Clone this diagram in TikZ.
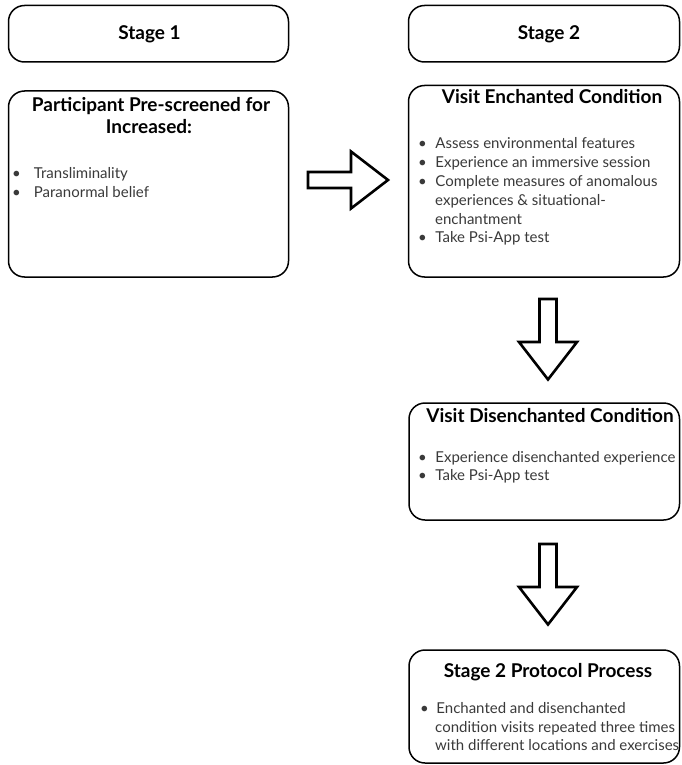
\documentclass[tikz,border=0pt]{standalone}
\usepackage{fontspec}
\setmainfont{Lato}
\definecolor{bodygray}{HTML}{3A3A3A}
\tikzset{
  box/.style={draw=black, line width=1.5pt, rounded corners=16pt, fill=white},
  ttl/.style={anchor=base, inner sep=0pt, font=\fontsize{19}{22}\selectfont\bfseries, text=black},
  bul/.style={anchor=base west, inner sep=0pt, font=\fontsize{15}{19}\selectfont, text=bodygray},
  blockarr/.style={draw=black, line width=2.6pt, line join=miter, fill=white}
}
\begin{document}
\begin{tikzpicture}[x=1pt,y=-1pt]
\useasboundingbox (0,0) rectangle (681,765);
% boxes
\draw[box] (8.5,5.5) rectangle (288.5,62);
\node[inner sep=0] (s1) at (148.5,33.5) {};
\draw[box] (8.5,91) rectangle (288.5,277);
\node[inner sep=0] (p) at (148.5,184) {};
\draw[box] (408.5,5.5) rectangle (679.5,62);
\node[inner sep=0] (s2) at (544,33.5) {};
\draw[box] (408.5,85.5) rectangle (679.5,277);
\node[inner sep=0] (e) at (544,181) {};
\draw[box] (409,403) rectangle (679.5,520);
\node[inner sep=0] (d) at (544,461) {};
\draw[box] (409,650) rectangle (679.5,763);
\node[inner sep=0] (pp) at (544,706) {};

% texts
\node[ttl] (t1) at (149.5,40) {Stage 1};
\node[ttl] (t2) at (549,40) {Stage 2};
\node[ttl] (tp1) at (151,112) {Participant Pre-screened for};
\node[ttl] (tp2) at (149,133) {Increased:};
\node[bul] (b1a) at (12,178) {\textbullet\hspace{13pt}Transliminality};
\node[bul] (b1b) at (12,197) {\textbullet\hspace{13pt}Paranormal belief};

\node[ttl] (te) at (552,104) {Visit Enchanted Condition};
\node[bul] (e1) at (418,148) {\textbullet\hspace{8.5pt}Assess environmental features};
\node[bul] (e2) at (418,167) {\textbullet\hspace{8.5pt}Experience an immersive session};
\node[bul] (e3) at (418,186) {\textbullet\hspace{8.5pt}Complete measures of anomalous};
\node[bul] (e4) at (435,205) {experiences \& situational-};
\node[bul] (e5) at (435,224) {enchantment};
\node[bul] (e6) at (418,242) {\textbullet\hspace{8.5pt}Take Psi-App test};

\node[ttl] (td) at (550,422) {Visit Disenchanted Condition};
\node[bul] (d1) at (418,462) {\textbullet\hspace{8.5pt}Experience disenchanted experience};
\node[bul] (d2) at (418,480) {\textbullet\hspace{8.5pt}Take Psi-App test};

\node[ttl] (tpp) at (548,677) {Stage 2 Protocol Process};
\node[bul] (q1) at (420,713) {\textbullet\hspace{7.5pt}Enchanted and disenchanted};
\node[bul] (q2) at (435,732) {condition visits repeated three times};
\node[bul] (q3) at (435,750) {with different locations and exercises};

% block arrows
\draw[blockarr] (308,172) -- (351,172) -- (351,151.5) -- (388,180) -- (351,208.5) -- (351,188) -- (308,188) -- cycle;
\draw[blockarr] (539.5,299) -- (556.5,299) -- (556.5,342) -- (577,342) -- (548,379.5) -- (519,342) -- (539.5,342) -- cycle;
\draw[blockarr] (539.5,544) -- (556.5,544) -- (556.5,587) -- (577,587) -- (548,624.5) -- (519,587) -- (539.5,587) -- cycle;
\end{tikzpicture}
\end{document}
